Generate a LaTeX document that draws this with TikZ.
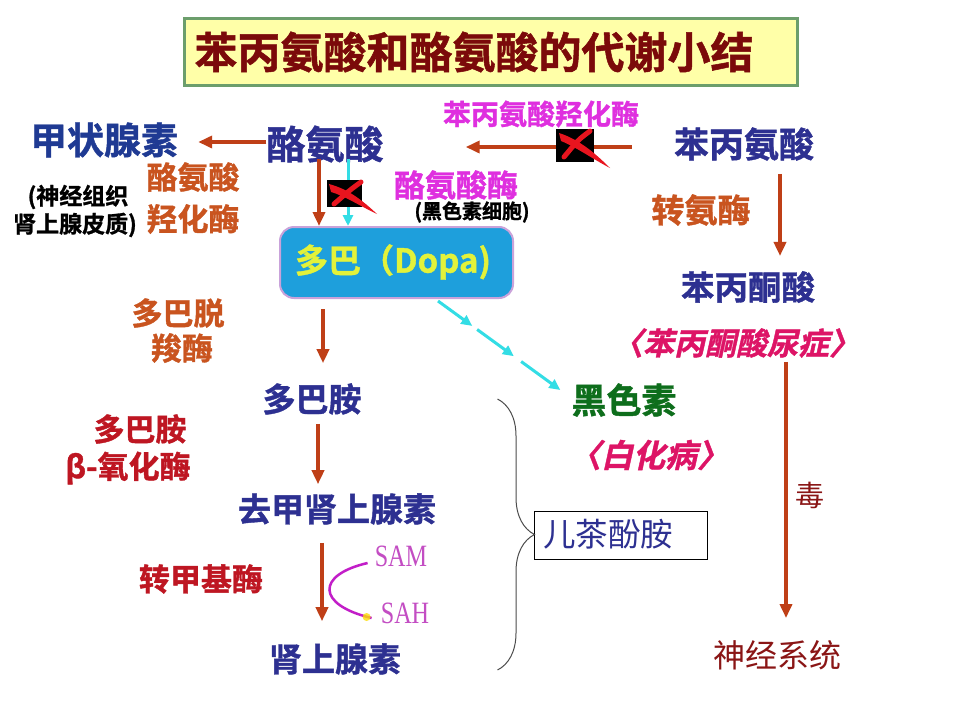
\documentclass[tikz,border=0pt]{standalone}
\usepackage{fontspec}
\setmainfont{Noto Sans CJK SC}
\newfontfamily\cjkb{Noto Sans CJK SC Bold}[FakeBold=1.2]
\newfontfamily\cjkbi{Noto Sans CJK SC Bold}[FakeSlant=0.22,FakeBold=1.2]
\newfontfamily\cjkr{Noto Sans CJK SC}
\newfontfamily\samfont{Liberation Serif}[FakeStretch=0.78]
\usetikzlibrary{arrows.meta,calc,decorations.pathreplacing}
\definecolor{titlec}{HTML}{7B0A0A}
\definecolor{titlefill}{HTML}{FFFFA8}
\definecolor{titleborder}{HTML}{6C9E6C}
\definecolor{navy}{HTML}{2D3091}
\definecolor{thyc}{HTML}{1F3A93}
\definecolor{orangec}{HTML}{C9541F}
\definecolor{arrowc}{HTML}{BF3F17}
\definecolor{magc}{HTML}{DF2FDF}
\definecolor{crimc}{HTML}{DD1466}
\definecolor{redc}{HTML}{BE1622}
\definecolor{maroonc}{HTML}{8A1515}
\definecolor{greenc}{HTML}{0E6E1C}
\definecolor{samc}{HTML}{C34DC3}
\definecolor{curvec}{HTML}{C21EC8}
\definecolor{dopafill}{HTML}{1E9FDC}
\definecolor{dopaborder}{HTML}{C9A2DA}
\definecolor{dopatext}{HTML}{E3F23A}
\definecolor{cyanc}{HTML}{33DDE5}
\definecolor{xred}{HTML}{E8141E}
\begin{document}
\begin{tikzpicture}[x=1pt,y=-1pt,
  lbl/.style={inner sep=0pt, font=\cjkb\fontsize{#1pt}{#1pt}\selectfont},
  lbli/.style={inner sep=0pt, font=\cjkbi\fontsize{#1pt}{#1pt}\selectfont},
  lblr/.style={inner sep=0pt, font=\cjkr\fontsize{#1pt}{#1pt}\selectfont},
  brarrow/.style={draw=arrowc, line width=3.5pt, -{Triangle[length=14pt,width=12pt]}},
  cyarrow/.style={draw=cyanc, line width=3pt, -{Triangle[length=11pt,width=10pt]}},
  titlebox/.style={draw=titleborder, line width=3pt, fill=titlefill, inner xsep=0pt, minimum height=67pt, text=titlec, font=\cjkb\fontsize{43pt}{43pt}\selectfont},
  dopabox/.style={draw=dopaborder, line width=2pt, fill=dopafill, rounded corners=14pt, minimum width=233pt, minimum height=71pt, inner sep=0pt},
  catbox/.style={draw=black, line width=1pt, minimum width=173pt, minimum height=48pt, inner sep=0pt}
]
\useasboundingbox (0,0) rectangle (960,720);
\fill[white] (0,0) rectangle (960,720);

% title
\node[titlebox, anchor=west] (title) at (183,52) {\hspace*{10pt}苯丙氨酸和酪氨酸的代谢小结\hspace*{44pt}};

% main nodes
\node[lbl=37, text=thyc] (thy) at (104,140) {甲状腺素};
\node[lbl=39, text=navy] (tyr) at (325,144) {酪氨酸};
\node[lbl=35, text=navy] (phe) at (744,144) {苯丙氨酸};
\node[dopabox] (dopa) at (396.5,262.5) {};
\node[lbl=33, text=dopatext] (dopatxt) at (393,262) {多巴（Dopa)};
\node[lbl=33.5, text=navy] (ppa) at (748,287) {苯丙酮酸};
\node[lbli=31, text=crimc] (pku) at (736,343) {〈苯丙酮酸尿症〉};
\node[lbl=33, text=navy] (da) at (312,399) {多巴胺};
\node[lbl=35, text=greenc] (mel) at (624,400) {黑色素};
\node[lbli=32, text=crimc] (alb) at (649,455) {〈白化病〉};
\node[lbl=33, text=navy] (ne) at (337,509) {去甲肾上腺素};
\node[lbl=33, text=navy] (epi) at (335,659) {肾上腺素};
\node[catbox] (cat) at (620.5,535) {};
\node[lblr=32.5, text=navy] (cattxt) at (608,534) {儿茶酚胺};
\node[lblr=32, text=maroonc] (nerv) at (777,655) {神经系统};

% enzyme labels
\node[lbl=31, text=orangec] (th1) at (193,177) {酪氨酸};
\node[lbl=31, text=orangec] (th2) at (193,219) {羟化酶};
\node[lbl=23, text=black] (tis1) at (78,197) {(神经组织};
\node[lbl=23, text=black] (tis2) at (75,225) {肾上腺皮质)};
\node[lbl=28, text=magc] (pah) at (541,114) {苯丙氨酸羟化酶};
\node[lbl=31, text=magc] (tyrase) at (456,185) {酪氨酸酶};
\node[lbl=20, text=black] (melcell) at (472,212) {(黑色素细胞)};
\node[lbl=33, text=orangec] (trans) at (701,210) {转氨酶};
\node[lbl=31, text=orangec] (ddc1) at (178,313) {多巴脱};
\node[lbl=31, text=orangec] (ddc2) at (182,348) {羧酶};
\node[lbl=31, text=redc] (dbh1) at (140,429) {多巴胺};
\node[lbl=31, text=redc] (dbh2) at (128,468) {β-氧化酶};
\node[lbl=31, text=redc] (pnmt) at (201,579) {转甲基酶};
\node[lblr=29, text=maroonc] (tox) at (810,495) {毒};
\node[inner sep=0pt, text=samc, font=\samfont\fontsize{31pt}{31pt}\selectfont] (sam) at (401,556) {SAM};
\node[inner sep=0pt, text=samc, font=\samfont\fontsize{31pt}{31pt}\selectfont] (sah) at (405,613) {SAH};

% arrows
\draw[brarrow, shorten >=20pt] ([yshift=2pt]tyr.west) -- ([yshift=2pt]tyr.west -| thy.east);
\draw[brarrow, shorten <=-4pt] ([xshift=-6pt]tyr.south) -- ([xshift=-6pt]tyr.south |- dopa.north);
\draw[cyarrow, shorten <=-4pt] ([xshift=23pt]tyr.south) -- ([xshift=23pt]tyr.south |- dopa.north);
\draw[brarrow, shorten <=42pt, shorten >=82pt] ([yshift=-3pt]phe.west) -- ([yshift=-3pt]phe.west -| tyr.east);
\draw[brarrow, shorten <=13pt, shorten >=15pt] ([xshift=36pt]phe.south) -- ([xshift=36pt]phe.south |- ppa.north);
\coordinate (nervtop) at ([xshift=9pt]nerv.north);
\draw[brarrow, shorten <=4pt, shorten >=22pt] (nervtop |- pku.south) -- (nervtop);
\coordinate (datop) at ([xshift=11pt]da.north);
\draw[brarrow, shorten <=10pt, shorten >=20pt] (datop |- dopa.south) -- (datop);
\draw[brarrow, shorten <=9pt, shorten >=9pt] ([xshift=6pt]da.south) -- ([xshift=6pt]da.south |- ne.north);
\coordinate (epitop) at ([xshift=-13pt]epi.north);
\draw[brarrow, shorten <=18pt, shorten >=22pt] (epitop |- ne.south) -- (epitop);

% cyan dashed arrow to melanin
\coordinate (c0) at ([shift={(41.5pt,-2pt)}]dopa.south);
\coordinate (c1) at ([shift={(-11pt,10pt)}]mel.west);
\draw[cyarrow] (c0) -- ($(c0)!0.28!(c1)$);
\draw[cyarrow] ($(c0)!0.32!(c1)$) -- ($(c0)!0.62!(c1)$);
\draw[cyarrow] ($(c0)!0.68!(c1)$) -- (c1);

% blocked marks
\fill[black] (327,180) rectangle (362,207);
\fill[xred] (329,184) .. controls (348,189) and (362,200) .. (377,214) .. controls (358,205) and (345,196) .. (331,192) -- cycle;
\draw[xred, line width=5pt, line cap=round] (361,182) .. controls (350,190) .. (334,204);
\fill[black] (556,129) rectangle (594,162);
\fill[xred] (559,133) .. controls (578,139) and (594,152) .. (610,168) .. controls (591,158) and (576,147) .. (561,141) -- cycle;
\draw[xred, line width=5pt, line cap=round] (590,131) .. controls (578,140) .. (564,157);

% SAM -> SAH curve
\draw[curvec, line width=2.5pt] ([xshift=-7pt,yshift=-7pt]sam.west) .. controls +(-52,12) and +(-55,-13) .. ([xshift=-9pt,yshift=-5pt]sah.west);
\fill[yellow!80!orange, opacity=0.8] ([xshift=-14pt,yshift=-4pt]sah.west) circle (4pt);

% brace
\draw[gray!60!black, line width=1pt, decorate, decoration={brace, amplitude=37pt}] ([shift={(-36pt,136pt)}]cat.west) -- ([shift={(-36pt,-135pt)}]cat.west);
\end{tikzpicture}
\end{document}
